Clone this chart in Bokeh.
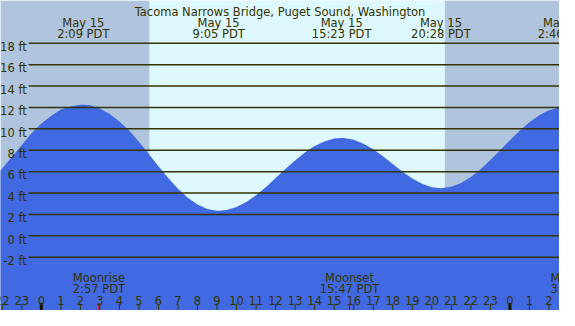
from bokeh.plotting import figure
from bokeh.models import Range1d, BoxAnnotation
from bokeh.core.properties import value
from bokeh.embed import file_html
from bokeh.resources import INLINE

# ---------------- data ----------------
title = "Tacoma Narrows Bridge, Puget Sound, Washington"

# hours relative to May 15 00:00 PDT, water level in ft
tide_hours = [-2.5, -2.0, -1.5, -1.0, -0.5, 0.0, 0.5, 1.0, 1.5, 2.0, 2.15, 2.5, 3.0, 3.5,
              4.0, 4.5, 5.0, 5.5, 6.0, 6.5, 7.0, 7.5, 8.0, 8.5, 9.0, 9.08, 9.5, 10.0,
              10.5, 11.0, 11.5, 12.0, 12.5, 13.0, 13.5, 14.0, 14.5, 15.0, 15.38, 15.5,
              16.0, 16.5, 17.0, 17.5, 18.0, 18.5, 19.0, 19.5, 20.0, 20.47, 21.0, 21.5,
              22.0, 22.5, 23.0, 23.5, 24.0, 24.5, 25.0, 25.5, 26.0, 26.5, 26.77, 27.0]
tide_ft = [5.3, 6.3, 7.4, 8.5, 9.6, 10.5, 11.2, 11.8, 12.1, 12.25, 12.25, 12.2, 11.9, 11.4,
           10.7, 9.85, 8.8, 7.65, 6.5, 5.4, 4.4, 3.56, 2.93, 2.52, 2.35, 2.35, 2.42, 2.7,
           3.17, 3.8, 4.55, 5.4, 6.25, 7.05, 7.8, 8.4, 8.83, 9.09, 9.15, 9.14,
           8.98, 8.62, 8.1, 7.45, 6.72, 6.0, 5.36, 4.86, 4.55, 4.45, 4.58, 4.94,
           5.5, 6.22, 7.08, 8.0, 8.93, 9.83, 10.63, 11.27, 11.73, 11.97, 12.0, 11.98]

extreme_hours = [2.15, 9.083, 15.383, 20.467, 26.767]
extreme_dates = ["May 15", "May 15", "May 15", "May 15", "May 16"]
extreme_times = ["2:09 PDT", "9:05 PDT", "15:23 PDT", "20:28 PDT", "2:46 PDT"]

sunrise = 5.533
sunset = 20.667

moon_hours = [2.95, 15.783, 27.42]
moon_events = ["Moonrise", "Moonset", "Moonrise"]
moon_times = ["2:57 PDT", "15:47 PDT", "3:25 PDT"]

ft_levels = [-2, 0, 2, 4, 6, 8, 10, 12, 14, 16, 18]
ft_labels = ["-2 ft", "0 ft", "2 ft", "4 ft", "6 ft", "8 ft", "10 ft", "12 ft",
             "14 ft", "16 ft", "18 ft"]

hour_ticks = [-2, -1, 0, 1, 2, 3, 4, 5, 6, 7, 8, 9, 10, 11, 12, 13, 14, 15, 16, 17,
              18, 19, 20, 21, 22, 23, 24, 25, 26]
hour_labels = ["22", "23", "0", "1", "2", "3", "4", "5", "6", "7", "8", "9", "10", "11",
               "12", "13", "14", "15", "16", "17", "18", "19", "20", "21", "22", "23",
               "0", "1", "2"]
midnight_hours = [0, 24]

# ---------------- layout ----------------
W, H = 559, 310
REF_W, REF_H = 575, 326
x_start, x_end = -2.09, 26.54
y_top, y_bot = 22.0, -6.98
PX_X = (x_end - x_start) / REF_W
PX_Y = (y_top - y_bot) / REF_H


def rx(px):
    return x_start + px * PX_X


def ry(py):
    return y_top - py * PX_Y


TEXT = "#333300"
FONT = value("DejaVu Sans")
FS = value("11.5px")

p = figure(width=W, height=H, output_backend="svg", toolbar_location=None,
           x_range=Range1d(x_start, x_end), y_range=Range1d(y_bot, y_top),
           x_axis_type=None, y_axis_type=None, min_border=0,
           background_fill_color="#DEF8FF", border_fill_color="#DEF8FF")
p.grid.visible = False
p.outline_line_color = None

# night shading
p.add_layout(BoxAnnotation(right=sunrise, fill_color="#B0C4DE", fill_alpha=1.0,
                           line_color=None, level="underlay"))
p.add_layout(BoxAnnotation(left=sunset, fill_color="#B0C4DE", fill_alpha=1.0,
                           line_color=None, level="underlay"))

# tide
p.varea(x=tide_hours, y1=y_bot, y2=tide_ft, fill_color="#4169E1", fill_alpha=1.0)

# level lines
line_x0 = rx(29)
p.segment(x0=[line_x0] * len(ft_levels), y0=ft_levels,
          x1=[x_end] * len(ft_levels), y1=ft_levels,
          line_color=TEXT, line_width=1.5)
p.text(x=[rx(27)] * len(ft_levels), y=[v - 4 * PX_Y for v in ft_levels], text=ft_labels,
       text_align="right", text_baseline="alphabetic", text_color=TEXT,
       text_font=FONT, text_font_size=FS)

# title
p.text(x=[(x_start + x_end) / 2], y=[ry(11.7)], text=[title], text_align="center",
       text_baseline="alphabetic", text_color=TEXT, text_font=FONT, text_font_size=FS)

# extremes labels
p.text(x=extreme_hours, y=[ry(24)] * len(extreme_hours), text=extreme_dates,
       text_align="center", text_baseline="alphabetic", text_color=TEXT,
       text_font=FONT, text_font_size=FS)
p.text(x=extreme_hours, y=[ry(35.7)] * len(extreme_hours), text=extreme_times,
       text_align="center", text_baseline="alphabetic", text_color=TEXT,
       text_font=FONT, text_font_size=FS)

# moon labels
p.text(x=moon_hours, y=[ry(292)] * len(moon_hours), text=moon_events,
       text_align="center", text_baseline="alphabetic", text_color=TEXT,
       text_font=FONT, text_font_size=FS)
p.text(x=moon_hours, y=[ry(303)] * len(moon_hours), text=moon_times,
       text_align="center", text_baseline="alphabetic", text_color=TEXT,
       text_font=FONT, text_font_size=FS)

# hour ticks and labels
p.segment(x0=hour_ticks, y0=[ry(319)] * len(hour_ticks), x1=hour_ticks,
          y1=[y_bot] * len(hour_ticks), line_color=TEXT, line_width=1)
p.segment(x0=midnight_hours, y0=[ry(318)] * len(midnight_hours), x1=midnight_hours,
          y1=[y_bot] * len(midnight_hours), line_color="#111100", line_width=3)
p.segment(x0=moon_hours, y0=[ry(318)] * len(moon_hours), x1=moon_hours,
          y1=[y_bot] * len(moon_hours), line_color="#E00000", line_width=1.2)
p.text(x=hour_ticks, y=[ry(316)] * len(hour_ticks), text=hour_labels,
       text_align="center", text_baseline="alphabetic", text_color=TEXT,
       text_font=FONT, text_font_size=FS)

open("out.html", "w").write(file_html(p, INLINE))
